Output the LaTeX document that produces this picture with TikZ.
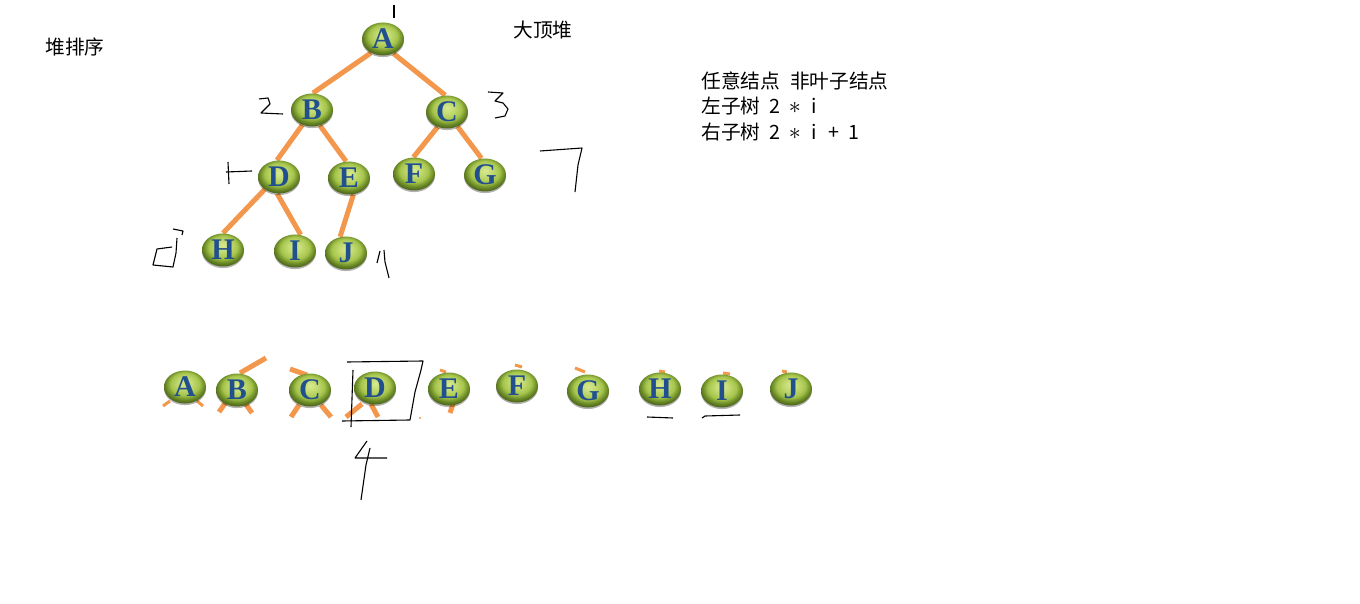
\documentclass[tikz,border=0pt]{standalone}
\usepackage{fontspec}
\setmainfont{Liberation Serif}
\newfontfamily\cjk{Noto Sans CJK SC}
\usetikzlibrary{shapes.geometric,shadows,backgrounds}
\definecolor{ballhi}{HTML}{D8EA8E}
\definecolor{ballmid}{HTML}{A6C54C}
\definecolor{balldark}{HTML}{6A8A26}
\definecolor{letterblue}{HTML}{22508F}
\definecolor{edgeorange}{HTML}{F2974C}
\pgfdeclareradialshading{greenball}{\pgfpoint{0bp}{7bp}}{%
  color(0bp)=(ballhi); color(8bp)=(ballhi!60!ballmid); color(17bp)=(ballmid);
  color(23bp)=(balldark); color(27bp)=(balldark!75!black); color(50bp)=(balldark!75!black)}
\newcommand{\hw}[1]{\makebox[0.5em]{#1}}
\newcommand{\bigast}{{\fontsize{12.5}{12.5}\selectfont$\ast$}}
\begin{document}
\begin{tikzpicture}[
    x=0.5pt,y=-0.5pt,
    ball/.style={ellipse,shading=greenball,minimum width=21pt,minimum height=16.5pt,
      inner sep=0pt,font=\bfseries\fontsize{15}{15}\selectfont,text=letterblue,
      drop shadow={shadow xshift=0pt,shadow yshift=-0.8pt,opacity=0.3,fill=black}},
    edge/.style={draw=edgeorange,line width=2.5pt},
    tip/.style={draw=edgeorange,line width=1.5pt},
    pen/.style={draw=black,line width=0.55pt,line join=round},
    note/.style={anchor=west,inner sep=0pt,text height=0.76em,text depth=0.1em,
      font=\cjk\fontsize{9.85}{12}\selectfont}
]
\useasboundingbox (0,0) rectangle (1360,604);

% heap tree
\node[ball] (A) at (383,39) {A};
\node[ball] (B) at (312,110) {B};
\node[ball] (C) at (447,112) {C};
\node[ball] (D) at (279,177) {D};
\node[ball] (E) at (349,178) {E};
\node[ball] (F) at (414,174) {F};
\node[ball] (G) at (485,175) {G};
\node[ball] (H) at (223,250) {H};
\node[ball] (I) at (295,251) {I};
\node[ball] (J) at (346,253) {J};

\begin{scope}[on background layer]
\draw[edge] (A.229) -- (B.87);
\draw[edge] (A.306) -- (C.96);
\draw[edge] (B.237) -- (D.97);
\draw[edge] (B.297) -- (E.100);
\draw[edge] (C.238) -- (F.92);
\draw[edge] (C.306) -- (G.102);
\draw[edge] (D.221) -- (H.90);
\draw[edge] (D.264) -- (I.71);
\draw[edge] (E.285) -- (J.110);
\end{scope}

% array row
\draw[tip] (163,406) -- (170,401);
\draw[tip] (197,401) -- (203,406);
\draw[edge] (240,373) -- (266,358);
\draw[edge] (226,402) -- (219,412);
\draw[edge] (245,403) -- (252,413);
\draw[edge] (290,369) -- (307,375);
\draw[edge] (299,405) -- (291,417);
\draw[edge] (321,405) -- (331,417);
\draw[edge] (362,404) -- (346,417);
\draw[edge] (371,404) -- (378,417);
\draw[tip] (440,370) -- (446,372);
\draw[edge] (453,404) -- (450,413);
\draw[tip] (515,365) -- (522,367);
\draw[tip] (575,368) -- (585,372);
\draw[tip] (659,371) -- (665,372);
\draw[tip] (723,373) -- (730,374);
\draw[tip] (782,371) -- (787,372);
\fill[edgeorange] (420,418) circle (1.2);

\node[ball] (a1) at (185,387) {A};
\node[ball] (a2) at (237,390) {B};
\node[ball] (a3) at (310,390) {C};
\node[ball] (a4) at (375,388) {D};
\node[ball] (a5) at (449,389) {E};
\node[ball] (a6) at (517,386) {F};
\node[ball] (a7) at (588,391) {G};
\node[ball] (a8) at (660,389) {H};
\node[ball] (a9) at (722,391) {I};
\node[ball] (a10) at (791,389) {J};

% texts
\node[note] (title) at (45,47.5) {堆排序};
\node[note] (heapkind) at (513,30.5) {大顶堆};
\node[note] (rule1) at (701,81.5) {任意结点\hw{}非叶子结点};
\node[note] (rule2) at (701,107) {左子树\hw{}\hw{2}\hw{}\hw{\bigast}\hw{}\hw{i}};
\node[note] (rule3) at (701,133) {右子树\hw{}\hw{2}\hw{}\hw{\bigast}\hw{}\hw{i}\hw{}\hw{+}\hw{}\hw{1}};

% handwritten marks
\draw[pen] (394,5) -- (394,18);
\draw[pen] (259,99) -- (268,98) -- (270,104) -- (261,113) -- (283,114);
\draw[pen] (488,92) -- (503,93) -- (495,101) -- (503,103) -- (508,109) -- (505,116) -- (495,118);
\draw[pen] (228,162) -- (229,184);
\draw[pen] (226,172) -- (252,171);
\draw[pen] (540,151) -- (582,148) -- (578,165) -- (575,192);
\draw[pen] (172,247) -- (157,249) -- (153,265) -- (173,267) -- (176,253) -- (177,238);
\draw[pen] (173,229) -- (183,231) -- (182,235);
\draw[pen] (380,251) -- (377,263);
\draw[pen] (384,250) -- (385,262) -- (389,278);
\draw[pen] (347,362) -- (423,361) -- (421,370) -- (415,392) -- (410,420) -- (342,421);
\draw[pen] (353,370) -- (351,427);
\draw[pen] (367,441) -- (355,458) -- (387,458);
\draw[pen] (370,448) -- (366,465) -- (361,500);
\draw[pen] (647,417) -- (673,418);
\draw[pen] (702,418) -- (705,416) -- (740,415);
\end{tikzpicture}
\end{document}
